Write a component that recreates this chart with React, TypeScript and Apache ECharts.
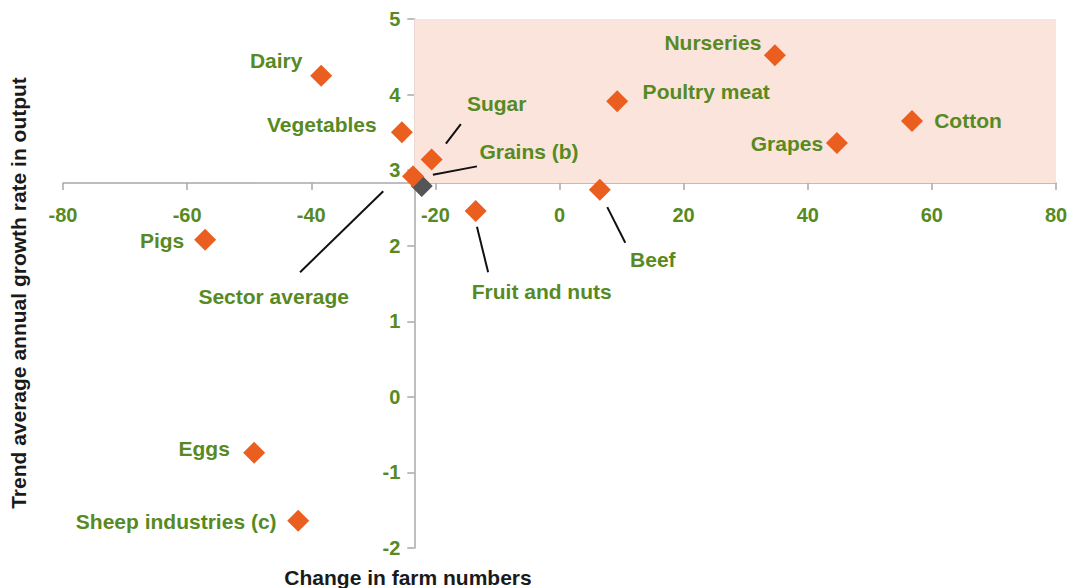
import React, { useEffect, useRef } from "react";
import * as echarts from "echarts";

const sectors = [
  "Dairy", "Vegetables", "Sugar", "Grains (b)", "Poultry meat", "Nurseries",
  "Cotton", "Grapes", "Beef", "Fruit and nuts", "Pigs", "Eggs", "Sheep industries (c)",
];
const farmChange = [-38.4, -25.4, -20.6, -23.6, 9.3, 34.7, 56.8, 44.7, 6.5, -13.5, -57.1, -49.2, -42.1];
const growthRate = [4.25, 3.5, 3.14, 2.92, 3.91, 4.52, 3.65, 3.36, 2.74, 2.46, 2.08, -0.74, -1.64];

const averageName = "Sector average";
const averageFarmChange = -22.2;
const averageGrowth = 2.79;

// axis crossing point (quadrant boundary)
const crossX = -23.4;
const crossY = 2.83;

const xTicks = { min: -80, max: 80, interval: 20 };
const yTicks = { min: -2, max: 5, interval: 1 };

// leader lines: [name, [x1, y1], [x2, y2]] in data units
const leaders: [string, number[], number[]][] = [
  ["Sugar", [-18.3, 3.35], [-15.9, 3.61]],
  ["Grains (b)", [-20.4, 2.94], [-13.3, 3.05]],
  ["Sector average", [-41.8, 1.65], [-28.4, 2.72]],
  ["Beef", [7.7, 2.51], [10.6, 2.04]],
  ["Fruit and nuts", [-13.3, 2.25], [-11.5, 1.65]],
];

// label offsets (style) relative to marker centre
const labelOffset: Record<string, number[]> = {
  "Dairy": [-45, -15],
  "Vegetables": [-80, -8],
  "Sugar": [65, -56],
  "Grains (b)": [116, -25],
  "Poultry meat": [89, -10],
  "Nurseries": [-62, -13],
  "Cotton": [56, -1],
  "Grapes": [-50, 1],
  "Beef": [53, 70],
  "Fruit and nuts": [66, 81],
  "Pigs": [-43, 1],
  "Eggs": [-50, -4],
  "Sheep industries (c)": [-122, 1],
  "Sector average": [-148, 110],
};

const GREEN = "#578a22";
const ORANGE = "#ea5f1f";
const FONT = "'Liberation Sans', Arial, sans-serif";

export default function App() {
  const ref = useRef<HTMLDivElement>(null);
  useEffect(() => {
    if (!ref.current) return;
    const chart = echarts.init(ref.current, undefined, { renderer: "svg" });
    const labelStyle = (name: string) => ({
      show: true,
      position: "inside",
      offset: labelOffset[name],
      formatter: "{b}",
      color: GREEN,
      fontSize: 21,
      fontWeight: "bold",
      fontFamily: FONT,
      align: "center",
      verticalAlign: "middle",
    });
    const option: any = {
      animation: false,
      backgroundColor: "#ffffff",
      textStyle: { fontFamily: FONT },
      grid: { left: 63, right: 13, top: 19, bottom: 40, containLabel: false, outerBoundsMode: "none" },
      xAxis: {
        type: "value",
        min: xTicks.min,
        max: xTicks.max,
        interval: xTicks.interval,
        position: "bottom",
        offset: 0,
        splitLine: { show: false },
        axisLine: { show: true, onZero: false, lineStyle: { color: "#a8a8a8", width: 1.5 } },
        axisTick: { show: true, length: 7, lineStyle: { color: "#a8a8a8", width: 1.5 } },
        axisLabel: { color: GREEN, fontSize: 20, fontWeight: "bold", fontFamily: FONT, margin: 22, showMinLabel: true, showMaxLabel: true },
      },
      yAxis: {
        type: "value",
        min: yTicks.min,
        max: yTicks.max,
        interval: yTicks.interval,
        position: "left",
        offset: 0,
        splitLine: { show: false },
        axisLine: { show: true, onZero: false, lineStyle: { color: "#a8a8a8", width: 1.5 } },
        axisTick: { show: true, length: 7, lineStyle: { color: "#a8a8a8", width: 1.5 } },
        axisLabel: { color: GREEN, fontSize: 20, fontWeight: "bold", fontFamily: FONT, margin: 14, padding: [0, 0, 6, 0] },
      },
      graphic: [
        {
          type: "text",
          x: 18,
          y: 293,
          rotation: Math.PI / 2,
          style: {
            text: "Trend average annual growth rate in output",
            fill: "#1a1a1a",
            font: `bold 21px ${FONT}`,
            align: "center",
            verticalAlign: "middle",
          },
        },
        {
          type: "text",
          x: 408,
          y: 577,
          style: {
            text: "Change in farm numbers",
            fill: "#1a1a1a",
            font: `bold 21px ${FONT}`,
            align: "center",
            verticalAlign: "middle",
          },
        },
      ],
      series: [
        {
          type: "scatter",
          name: "quadrant",
          data: [],
          silent: true,
          markArea: {
            silent: true,
            itemStyle: { color: "#fbe4db", opacity: 1 },
            data: [[{ coord: [crossX, crossY] }, { coord: [xTicks.max, yTicks.max] }]],
          },
          z: 1,
        },
        ...leaders.map(([n, a, b]) => ({
          type: "line",
          name: "leader-" + n,
          data: [a, b],
          symbol: "none",
          silent: true,
          lineStyle: { color: "#111111", width: 2 },
          z: 3,
        })),
        {
          type: "scatter",
          name: "average",
          symbol: "diamond",
          symbolSize: 22,
          itemStyle: { color: "#555555", opacity: 1 },
          data: [{ name: averageName, value: [averageFarmChange, averageGrowth], label: labelStyle(averageName) }],
          z: 4,
        },
        {
          type: "scatter",
          name: "sectors",
          symbol: "diamond",
          symbolSize: 22,
          itemStyle: { color: ORANGE, opacity: 1 },
          data: sectors.map((n, i) => ({ name: n, value: [farmChange[i], growthRate[i]], label: labelStyle(n) })),
          z: 5,
        },
      ],
    };
    chart.setOption(option);
    const p0 = chart.convertToPixel({ gridIndex: 0 }, [crossX, crossY]) as number[];
    const pMin = chart.convertToPixel({ gridIndex: 0 }, [xTicks.min, yTicks.min]) as number[];
    if (p0 && pMin) {
      chart.setOption({
        xAxis: { offset: -(pMin[1] - p0[1]) },
        yAxis: { offset: -(p0[0] - pMin[0]) },
      });
    }
    return () => chart.dispose();
  }, []);
  return <div ref={ref} style={{ width: 1069, height: 588, position: "absolute", left: 0, top: 0 }} />;
}
